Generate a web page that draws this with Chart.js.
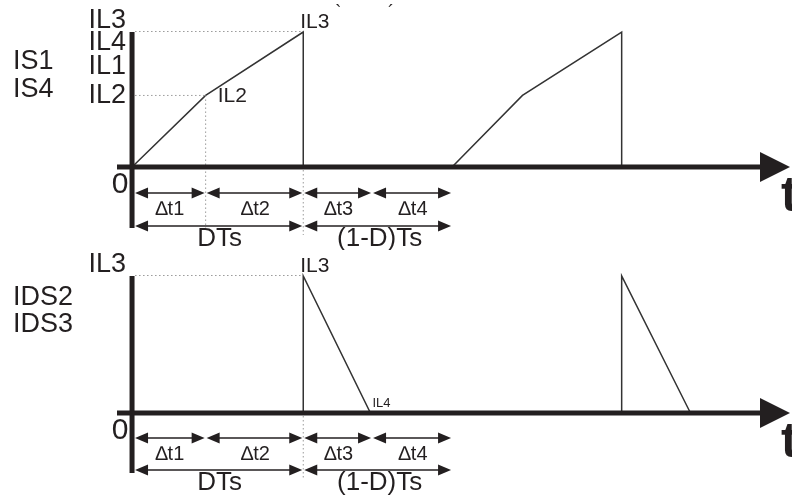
<!DOCTYPE html>
<html>
<head>
<meta charset="utf-8">
<script src="https://cdn.jsdelivr.net/npm/chart.js@4"></script>
<style>
  html, body { margin: 0; padding: 0; background: #fff; }
  canvas { display: block; }
</style>
</head>
<body>
<canvas id="topChart" width="792" height="250"></canvas>
<canvas id="botChart" width="792" height="250"></canvas>
<script>
// time in units of Ts/10, current in units of IL3/10
const T_EDGES       = [0, 2.3, 5.35, 7.5, 10];
const T_LABELS      = ['\u2206t1', '\u2206t2', '\u2206t3', '\u2206t4'];
const PERIOD_EDGES  = [0, 5.35, 10];
const PERIOD_LABELS = ['DTs', '(1-D)Ts'];

const IL3 = 10;
const IL2 = 5.3;

// switch current IS1 / IS4
const IS_T = [0, 2.3, 5.35, 5.35, 10, 12.2, 15.3, 15.3];
const IS_I = [0, 5.3, 10,   0,    0,  5.3,  10,   0];

// diode current IDS2 / IDS3
const IDS_T = [5.35, 5.35, 7.45, 15.3, 15.3, 17.45];
const IDS_I = [0,    10,   0,    0,    10,   0];

const INK  = '#231f20';
const DOT  = '#9a9a9a';
const FONT = '"Liberation Sans", Arial, sans-serif';

function text(ctx, s, x, y, size, align = 'center', weight = '') {
  ctx.save();
  ctx.font = `${weight} ${size}px ${FONT}`;
  ctx.fillStyle = INK;
  ctx.textAlign = align;
  ctx.textBaseline = 'middle';
  ctx.fillText(s, x, y);
  ctx.restore();
}

function dotted(ctx, x1, y1, x2, y2) {
  ctx.save();
  ctx.strokeStyle = DOT;
  ctx.lineWidth = 1;
  ctx.setLineDash([1.5, 2.5]);
  ctx.beginPath();
  ctx.moveTo(x1, y1);
  ctx.lineTo(x2, y2);
  ctx.stroke();
  ctx.restore();
}

function dimArrow(ctx, x1, x2, y) {
  const L = 13, H = 5.5;
  ctx.save();
  ctx.strokeStyle = INK;
  ctx.fillStyle = INK;
  ctx.lineWidth = 1.6;
  ctx.beginPath();
  ctx.moveTo(x1 + L - 1, y);
  ctx.lineTo(x2 - L + 1, y);
  ctx.stroke();
  ctx.beginPath();
  ctx.moveTo(x1, y); ctx.lineTo(x1 + L, y - H); ctx.lineTo(x1 + L, y + H); ctx.closePath();
  ctx.moveTo(x2, y); ctx.lineTo(x2 - L, y - H); ctx.lineTo(x2 - L, y + H); ctx.closePath();
  ctx.fill();
  ctx.restore();
}

// axes, dimension arrows, guides and labels for one panel
function panelPlugin(panel) {
  return {
    id: 'panel',
    afterDatasetsDraw(chart) {
      const { ctx, chartArea, scales: { x, y } } = chart;
      const px = v => x.getPixelForValue(v);
      const py = v => y.getPixelForValue(v);
      const x0 = px(0), y0 = py(0);

      // guides
      dotted(ctx, x0 + 3, py(IL3) - 0.5, px(5.35), py(IL3) - 0.5);
      if (panel.top) {
        dotted(ctx, x0 + 3, py(IL2), px(2.3), py(IL2));
        dotted(ctx, px(2.3), py(IL2), px(2.3), y0 + panel.row2 + 2);
      }
      dotted(ctx, px(5.35), y0 + 3, px(5.35), y0 + panel.guideEnd);

      // axes
      ctx.save();
      ctx.fillStyle = INK;
      ctx.fillRect(x0 - 2.5, py(IL3), 5, chartArea.bottom - py(IL3));
      ctx.fillRect(chartArea.left, y0 - 2.5, 762 - chartArea.left, 5);
      ctx.beginPath();
      ctx.moveTo(chartArea.right, y0);
      ctx.lineTo(chartArea.right - 30, y0 - 15);
      ctx.lineTo(chartArea.right - 30, y0 + 15);
      ctx.closePath();
      ctx.fill();
      ctx.restore();
      text(ctx, 't', 781, y0 + 30, 50, 'left', 'bold');
      text(ctx, '0', 120, y0 + 18, 30);

      // dimension arrows
      for (let i = 0; i < T_LABELS.length; i++) {
        const a = px(T_EDGES[i]) + (i === 0 ? 3 : 1);
        const b = px(T_EDGES[i + 1]) - 1;
        dimArrow(ctx, a, b, y0 + panel.row1);
        text(ctx, T_LABELS[i], (px(T_EDGES[i]) + px(T_EDGES[i + 1])) / 2 + 1, y0 + panel.row1 + 16, 20);
      }
      for (let i = 0; i < PERIOD_LABELS.length; i++) {
        const a = px(PERIOD_EDGES[i]) + (i === 0 ? 3 : 1);
        const b = px(PERIOD_EDGES[i + 1]) - 1;
        dimArrow(ctx, a, b, y0 + panel.row2);
        text(ctx, PERIOD_LABELS[i], (px(PERIOD_EDGES[i]) + px(PERIOD_EDGES[i + 1])) / 2 + 2, y0 + panel.row2 + 13, 26);
      }

      // level and signal labels
      panel.levels.forEach(([s, dy]) => text(ctx, s, 126, py(panel.levelRef) + dy, 27, 'right'));
      panel.names.forEach(([s, yy]) => text(ctx, s, 13, yy, 27, 'left'));
      panel.notes.forEach(([s, t, v, dx, dy, size]) => text(ctx, s, px(t) + dx, py(v) + dy, size, 'left'));
    }
  };
}

function makeChart(id, ts, is, yMin, padding, panel) {
  const pts = ts.map((t, i) => ({ x: t, y: is[i] }));
  return new Chart(document.getElementById(id), {
    type: 'scatter',
    data: {
      datasets: [{
        data: pts,
        showLine: true,
        borderColor: '#333',
        borderWidth: 1.5,
        pointRadius: 0,
        tension: 0,
        clip: false,
      }]
    },
    options: {
      responsive: false,
      animation: false,
      events: [],
      layout: { padding },
      plugins: { legend: { display: false }, tooltip: { enabled: false } },
      scales: {
        x: { type: 'linear', display: false, min: -0.47, max: 20.56 },
        y: { type: 'linear', display: false, min: yMin, max: 10 }
      }
    },
    plugins: [panelPlugin(panel)]
  });
}

makeChart('topChart', IS_T, IS_I, -4.52, { left: 117, right: 2, top: 32, bottom: 22 }, {
  top: true, row1: 26, row2: 59, guideEnd: 68, levelRef: IL2,
  levels: [['IL3', -75], ['IL4', -53], ['IL1', -29], ['IL2', 0]],
  names: [['IS1', 62], ['IS4', 90]],
  notes: [['IL2', 2.3, IL2, 12, 1, 21], ['IL3', 5.35, IL3, -3, -10, 21],
          ['`', 6.35, IL3, 0, -19, 18], ['\u00b4', 8.0, IL3, 0, -19, 18]]
});

makeChart('botChart', IDS_T, IDS_I, -4.38, { left: 117, right: 2, top: 26, bottom: 27 }, {
  top: false, row1: 25, row2: 57, guideEnd: 65, levelRef: IL3,
  levels: [['IL3', -11]],
  names: [['IDS2', 48], ['IDS3', 75]],
  notes: [['IL3', 5.35, IL3, -3, -10, 21], ['IL4', 7.45, 0, 2, -10, 13]]
});
</script>
</body>
</html>
